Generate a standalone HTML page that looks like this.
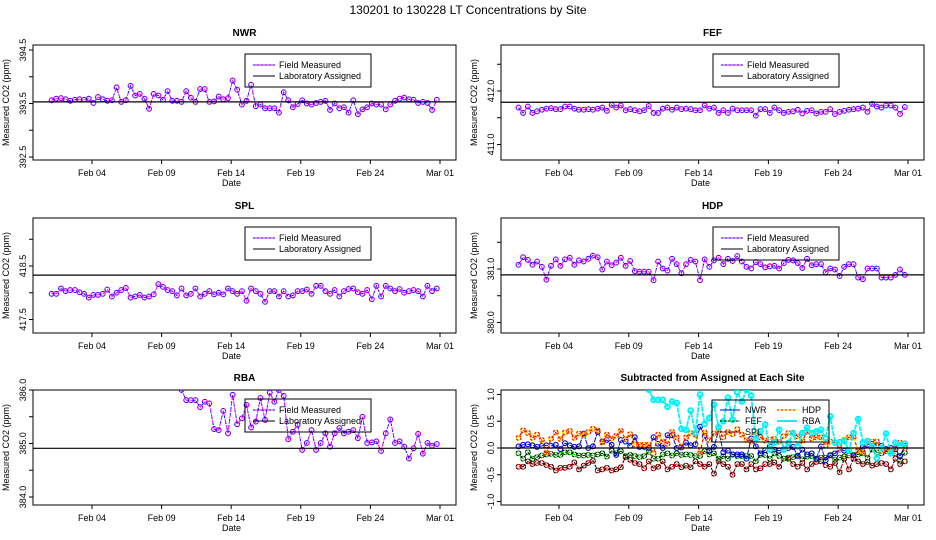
<!DOCTYPE html>
<html><head><meta charset="utf-8">
<style>
html,body{margin:0;padding:0;background:#fff;}
svg{display:block;font-family:"Liberation Sans",Arial,sans-serif;}
</style></head>
<body>
<svg id="chart" width="936" height="540" viewBox="0 0 936 540" xmlns="http://www.w3.org/2000/svg">
<rect x="0" y="0" width="936" height="540" fill="#fff"/>
<text x="468" y="14" font-size="12" text-anchor="middle">130201  to  130228 LT Concentrations by Site</text>
<defs>
<clipPath id="c0"><rect x="33" y="45" width="423" height="115"/></clipPath>
<clipPath id="c1"><rect x="501" y="45" width="423" height="115"/></clipPath>
<clipPath id="c2"><rect x="33" y="218" width="423" height="115"/></clipPath>
<clipPath id="c3"><rect x="501" y="218" width="423" height="115"/></clipPath>
<clipPath id="c4"><rect x="33" y="390" width="423" height="115"/></clipPath>
<clipPath id="c5"><rect x="501" y="390" width="423" height="115"/></clipPath>
</defs>
<g id="plots"></g>
</svg>
<script>
const days=[1.1,1.43,1.77,2.1,2.43,2.77,3.1,3.43,3.77,4.1,4.43,4.77,5.1,5.43,5.77,6.1,6.43,6.77,7.1,7.43,7.77,8.1,8.43,8.77,9.1,9.43,9.77,10.1,10.43,10.77,11.1,11.43,11.77,12.1,12.43,12.77,13.1,13.43,13.77,14.1,14.43,14.77,15.1,15.43,15.77,16.1,16.43,16.77,17.1,17.43,17.77,18.1,18.43,18.77,19.1,19.43,19.77,20.1,20.43,20.77,21.1,21.43,21.77,22.1,22.43,22.77,23.1,23.43,23.77,24.1,24.43,24.77,25.1,25.43,25.77,26.1,26.43,26.77,27.1,27.43,27.77,28.1,28.43,28.77];
const xTickDays=[4,9,14,19,24,29];
const xTickLabels=["Feb 04","Feb 09","Feb 14","Feb 19","Feb 24","Mar 01"];
const siteNames=["NWR","FEF","SPL","HDP","RBA"];
const assigned=[393.53,411.79,418.33,380.89,384.91];
const devNWR=[0.03,0.06,0.07,0.05,0.02,0.04,0.05,0.04,0.06,-0.02,0.09,0.05,0.02,0.03,0.27,0.00,0.03,0.30,0.12,0.15,0.06,-0.13,0.15,0.12,0.04,0.20,0.02,0.02,0.00,0.20,0.08,0.00,0.24,0.24,0.00,0.01,0.10,0.05,0.07,0.40,0.23,-0.05,0.02,0.32,-0.08,-0.05,-0.12,-0.12,-0.12,-0.20,0.18,0.03,-0.10,-0.04,0.03,-0.03,-0.05,-0.02,0.00,0.02,-0.15,-0.03,-0.12,-0.10,-0.20,0.03,-0.23,-0.14,-0.10,-0.03,-0.05,-0.05,-0.14,-0.05,0.02,0.06,0.08,0.05,0.04,-0.02,0.00,-0.02,-0.15,0.04];
const devFEF=[-0.10,-0.20,-0.08,-0.20,-0.17,-0.14,-0.12,-0.11,-0.13,-0.13,-0.08,-0.08,-0.12,-0.14,-0.14,-0.13,-0.14,-0.12,-0.10,-0.16,-0.05,-0.10,-0.06,-0.15,-0.13,-0.15,-0.17,-0.15,-0.07,-0.20,-0.20,-0.12,-0.10,-0.14,-0.10,-0.13,-0.12,-0.13,-0.15,-0.15,-0.06,-0.12,-0.10,-0.20,-0.15,-0.20,-0.12,-0.15,-0.15,-0.15,-0.15,-0.25,-0.13,-0.13,-0.20,-0.10,-0.15,-0.20,-0.18,-0.17,-0.14,-0.21,-0.16,-0.15,-0.21,-0.18,-0.18,-0.13,-0.22,-0.18,-0.16,-0.14,-0.13,-0.12,-0.10,-0.18,-0.03,-0.08,-0.10,-0.06,-0.06,-0.10,-0.22,-0.09];
const devSPL=[-0.35,-0.35,-0.25,-0.30,-0.28,-0.28,-0.32,-0.35,-0.42,-0.37,-0.37,-0.35,-0.27,-0.40,-0.33,-0.28,-0.24,-0.42,-0.40,-0.37,-0.42,-0.40,-0.36,-0.17,-0.22,-0.28,-0.30,-0.38,-0.25,-0.38,-0.35,-0.25,-0.40,-0.35,-0.30,-0.36,-0.33,-0.36,-0.25,-0.30,-0.35,-0.30,-0.48,-0.25,-0.30,-0.35,-0.50,-0.30,-0.30,-0.40,-0.30,-0.40,-0.38,-0.30,-0.30,-0.27,-0.35,-0.20,-0.20,-0.30,-0.35,-0.28,-0.40,-0.30,-0.26,-0.25,-0.32,-0.35,-0.28,-0.45,-0.20,-0.40,-0.20,-0.25,-0.30,-0.26,-0.33,-0.30,-0.28,-0.30,-0.40,-0.20,-0.30,-0.25];
const devHDP=[0.19,0.33,0.28,0.19,0.25,0.15,-0.09,0.17,0.29,0.17,0.29,0.32,0.19,0.27,0.25,0.30,0.36,0.33,0.10,0.25,0.18,0.23,0.32,0.17,0.26,0.07,0.06,0.06,0.06,-0.10,0.25,0.12,0.08,0.30,0.20,0.03,0.20,0.28,0.25,-0.10,0.29,0.15,0.27,0.32,0.20,0.30,0.26,0.35,0.25,0.15,0.12,0.24,0.20,0.14,0.16,0.17,0.12,0.22,0.28,0.27,0.22,0.13,0.30,0.18,0.20,0.20,0.05,0.12,0.10,-0.02,0.15,0.20,0.20,-0.05,-0.08,0.12,0.12,0.12,-0.05,-0.05,-0.05,0.00,0.10,0.00];
const devRBA=[1.3,1.3,1.3,1.3,1.3,1.3,1.3,1.3,1.3,1.3,1.3,1.3,1.3,1.3,1.3,1.3,1.3,1.3,1.3,1.3,1.3,1.3,1.3,1.3,1.3,1.3,1.3,1.3,1.09,0.9,0.9,0.9,0.77,0.87,0.84,0.36,0.34,0.70,0.28,1.0,0.45,0.56,0.81,0.39,0.5,0.94,0.53,1.04,0.87,1.09,0.98,0.17,0.31,0.44,-0.03,0.1,0.34,-0.03,0.1,0.28,0.03,0.28,0.38,0.28,0.31,0.34,0.19,0.59,0.1,0.11,0.13,-0.05,0.28,0.54,0.1,0.13,0.03,-0.19,0.0,0.27,-0.1,0.1,0.05,0.08];
const yTicksNWR=[392.5,393.0,393.5,394.0,394.5];
const yTicksFEF=[411.0,411.5,412.0,412.5];
const yTicksSPL=[417.5,418.0,418.5,419.0];
const yTicksHDP=[380.0,380.5,381.0,381.5];
const yTicksRBA=[384.0,384.5,385.0,385.5,386.0];
const yTicksDiff=[-1.0,-0.5,0.0,0.5,1.0];

const NS="http://www.w3.org/2000/svg";
const root=document.getElementById('plots');
function mk(tag,attrs,parent){const e=document.createElementNS(NS,tag);for(const k in attrs)e.setAttribute(k,attrs[k]);(parent||root).appendChild(e);return e;}
const PPU=53.5;
const panels=[
 {x:33,y:45,title:"NWR",ref:394.5,refY:50,ticks:yTicksNWR,lab:[392.5,393.5,394.5],dec:1},
 {x:501,y:45,title:"FEF",ref:412.0,refY:91,ticks:yTicksFEF,lab:[411.0,412.0],dec:1},
 {x:33,y:218,title:"SPL",ref:418.5,refY:266,ticks:yTicksSPL,lab:[417.5,418.5],dec:1},
 {x:501,y:218,title:"HDP",ref:381.0,refY:269,ticks:yTicksHDP,lab:[380.0,381.0],dec:1},
 {x:33,y:390,title:"RBA",ref:386.0,refY:390,ticks:yTicksRBA,lab:[384.0,385.0,386.0],dec:1},
 {x:501,y:390,title:"Subtracted from Assigned at Each Site",ref:0,refY:448,ticks:yTicksDiff,lab:[-1.0,-0.5,0.0,0.5,1.0],dec:1}
];
const W=423,H=115;
function xScale(p,d){const f=p.x===33?{a:92,s:13.92}:{a:559,s:13.96};return f.a+(d-4)*f.s;}
function yScale(p,v){return p.refY-(v-p.ref)*PPU;}

function drawAxes(p,i){
  const g=mk('g',{});
  
  
  const b=mk('rect',{x:p.x,y:p.y,width:W,height:H,fill:'none',stroke:'#000','stroke-width':1},g);
  
  
  const t=mk('text',{x:p.x+W/2,y:p.y-9,'font-size':10,'font-weight':'bold','text-anchor':'middle'},g);
  
  
  t.textContent=p.title;
  xTickDays.forEach((d,k)=>{const x=xScale(p,d);
    mk('line',{x1:x,x2:x,y1:p.y+H,y2:p.y+H+4,stroke:'#000'},g);
    const tl=mk('text',{x:x,y:p.y+H+16,'font-size':9,'text-anchor':'middle'},g);
    
    
    tl.textContent=xTickLabels[k];});
  const xl=mk('text',{x:p.x+W/2-(p.x===33?13:12),y:p.y+H+26,'font-size':9,'text-anchor':'middle'},g);
  
  
  xl.textContent='Date';
  p.ticks.forEach(v=>{const y=yScale(p,v);
    mk('line',{x1:p.x-4,x2:p.x,y1:y,y2:y,stroke:'#000'},g);});
  p.lab.forEach(v=>{const y=yScale(p,v);
    const tl=mk('text',{x:0,y:0,'font-size':9,'text-anchor':'middle',transform:`translate(${p.x-7},${y}) rotate(-90)`},g);
    
    
    tl.textContent=v.toFixed(p.dec);});
  const yl=mk('text',{x:0,y:0,'font-size':9,'text-anchor':'middle',transform:`translate(${p.x-24},${p.y+H/2}) rotate(-90)`},g);
  
  
  yl.textContent='Measured CO2 (ppm)';
  return g;
}
function series(p,i,vals,c1,c2,lw,name){
  const g=mk('g',{'clip-path':`url(#c${i})`});
  
  
  const pts=vals.map((v,k)=>xScale(p,days[k]).toFixed(1)+','+yScale(p,v).toFixed(1)).join(' ');
  mk('polyline',{points:pts,fill:'none',stroke:c2,'stroke-width':lw,'stroke-dasharray':'2,4'},g);
  mk('polyline',{points:pts,fill:'none',stroke:c1,'stroke-width':lw,'stroke-dasharray':'3,3','stroke-dashoffset':3},g);
  vals.forEach((v,k)=>{const cx=xScale(p,days[k]),cy=yScale(p,v);
    const c=mk('circle',{cx:cx,cy:cy,r:2.4,fill:'none',stroke:c2,'stroke-width':lw},g);
    
    
    mk('circle',{cx:cx,cy:cy,r:2.4,fill:'none',stroke:c1,'stroke-width':lw,'stroke-dasharray':'2,2'},g);});
}
const devs=[devNWR,devFEF,devSPL,devHDP,devRBA];
for(let i=0;i<5;i++){
  const p=panels[i];drawAxes(p,i);
  const vals=devs[i].map(d=>assigned[i]+d);
  series(p,i,vals,'#ff00ff','#0000ff',1,'field-measured-'+siteNames[i].toLowerCase());
  const al=mk('line',{x1:p.x,x2:p.x+W,y1:yScale(p,assigned[i]),y2:yScale(p,assigned[i]),stroke:'#000','stroke-width':1.2});
  
  
  const lx=p.x+212,ly=p.y+9;
  const lg=mk('g',{});
  
  
  mk('rect',{x:lx,y:ly,width:126,height:33,fill:'none',stroke:'#000'},lg);
  mk('line',{x1:lx+8,x2:lx+30,y1:ly+11,y2:ly+11,stroke:'#0000ff','stroke-dasharray':'2,2'},lg);
  mk('line',{x1:lx+8,x2:lx+30,y1:ly+11,y2:ly+11,stroke:'#ff00ff','stroke-dasharray':'2,2','stroke-dashoffset':2},lg);
  mk('line',{x1:lx+8,x2:lx+30,y1:ly+22,y2:ly+22,stroke:'#000'},lg);
  const a=mk('text',{x:lx+34,y:ly+14,'font-size':9},lg);a.textContent='Field Measured';
  const b=mk('text',{x:lx+34,y:ly+25,'font-size':9},lg);b.textContent='Laboratory Assigned';
}
const pd=panels[5];drawAxes(pd,5);
const diffStyle=[['#0000ff','#00008b',1],['#000000','#00cc00',1],['#000000','#ff0000',1],['#ff0000','#ffdd00',1.2],['#00ffff','#00e5ee',1.8]];
[2,1,0,3,4].forEach(i=>{series(pd,5,devs[i],diffStyle[i][0],diffStyle[i][1],diffStyle[i][2],'difference-'+siteNames[i].toLowerCase());});
const zl=mk('line',{x1:pd.x,x2:pd.x+W,y1:yScale(pd,0),y2:yScale(pd,0),stroke:'#000','stroke-width':1.2});


const dl=mk('g',{});


mk('rect',{x:712,y:400,width:117,height:42,fill:'none',stroke:'#000'},dl);
const legItems=[[0,720,410],[1,720,421],[2,720,432],[3,777,410],[4,777,421]];
legItems.forEach(([i,x,y])=>{
  mk('line',{x1:x,x2:x+20,y1:y,y2:y,stroke:diffStyle[i][1],'stroke-width':diffStyle[i][2]},dl);
  if(i<4)mk('line',{x1:x,x2:x+20,y1:y,y2:y,stroke:diffStyle[i][0],'stroke-dasharray':'2,2'},dl);
  const t=mk('text',{x:x+25,y:y+3,'font-size':9},dl);t.textContent=siteNames[i];
});
</script>
</body></html>
